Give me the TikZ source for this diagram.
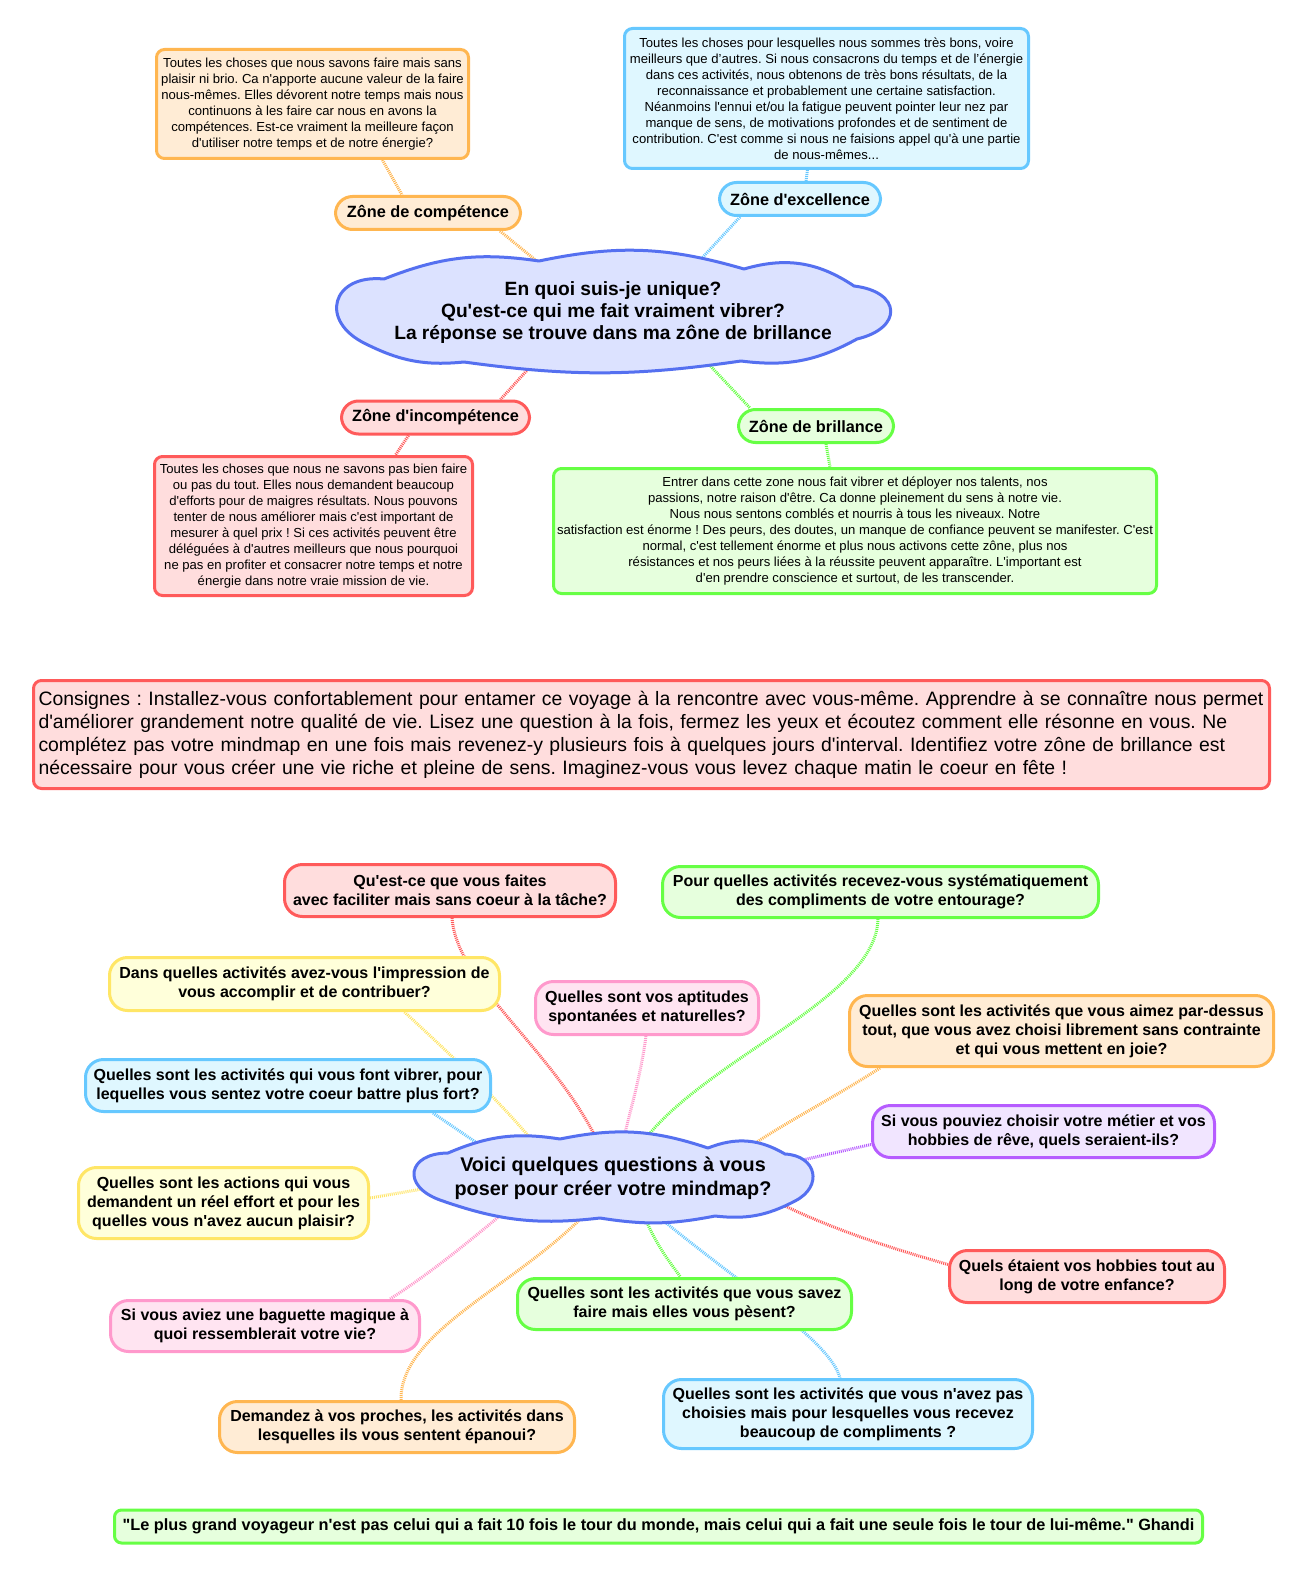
\documentclass[tikz,border=0pt]{standalone}
\usepackage{fontspec}
\setmainfont{Liberation Sans}[Ligatures=TeXOff]
\usetikzlibrary{backgrounds,calc}
\definecolor{orB}{HTML}{FFB650}\definecolor{orF}{HTML}{FFECD5}
\definecolor{blB}{HTML}{66C8FF}\definecolor{blF}{HTML}{DFF7FF}
\definecolor{rdB}{HTML}{FF5A5A}\definecolor{rdF}{HTML}{FFDDDD}
\definecolor{grB}{HTML}{66FF44}\definecolor{grF}{HTML}{E6FFDD}
\definecolor{clB}{HTML}{5570F0}\definecolor{clF}{HTML}{DCE2FF}
\definecolor{ylB}{HTML}{FFE666}\definecolor{ylF}{HTML}{FFFFDA}
\definecolor{pkB}{HTML}{FF99CC}\definecolor{pkF}{HTML}{FFE4F1}
\definecolor{puB}{HTML}{B65CFF}\definecolor{puF}{HTML}{F1E5FF}
\tikzset{
  textbox/.style={draw, line width=3pt, rounded corners=8pt, align=center, inner sep=0pt, font=\fontsize{13.1}{16}\selectfont},
  pill/.style={draw, line width=3pt, rounded corners=17pt, align=center, inner sep=0pt, minimum height=33pt, font=\bfseries\fontsize{16.3}{19}\selectfont},
  qbox/.style={draw, line width=3pt, rounded corners=18pt, align=center, inner sep=0pt, font=\bfseries\fontsize{16}{19}\selectfont},
  cloudline/.style={draw=clB, fill=clF, line width=3pt, line join=round},
  cloudtext/.style={align=center, inner sep=0pt},
  link/.style={line width=3pt, dash pattern=on 1pt off 1pt},
  orN/.style={draw=orB, fill=orF}, blN/.style={draw=blB, fill=blF},
  rdN/.style={draw=rdB, fill=rdF}, grN/.style={draw=grB, fill=grF},
  ylN/.style={draw=ylB, fill=ylF}, pkN/.style={draw=pkB, fill=pkF},
  puN/.style={draw=puB, fill=puF},
}
\begin{document}
\frenchspacing
\begin{tikzpicture}[x=1pt,y=-1pt]
\useasboundingbox (0,0) rectangle (1310,1570);
% ---------- top part ----------
\node[textbox, orN, minimum width=312pt, minimum height=109pt] (compbox) at (312.5,104) {Toutes les choses que nous savons faire mais sans\\plaisir ni brio. Ca n'apporte aucune valeur de la faire\\nous-mêmes. Elles dévorent notre temps mais nous\\continuons à les faire car nous en avons la\\compétences. Est-ce vraiment la meilleure façon\\d'utiliser notre temps et de notre énergie?};
\node[pill, orN, minimum width=185pt] (complab) at (428,213) {Zône de compétence};
\node[textbox, blN, minimum width=404pt, minimum height=140pt] (exbox) at (826.5,98.5) {Toutes les choses pour lesquelles nous sommes très bons, voire\\meilleurs que d’autres. Si nous consacrons du temps et de l’énergie\\dans ces activités, nous obtenons de très bons résultats, de la\\reconnaissance et probablement une certaine satisfaction.\\Néanmoins l'ennui et/ou la fatigue peuvent pointer leur nez par\\manque de sens, de motivations profondes et de sentiment de\\contribution. C'est comme si nous ne faisions appel qu'à une partie\\de nous-mêmes...};
\node[pill, blN, minimum width=161pt] (exlab) at (800,199) {Zône d'excellence};
% central cloud 1
\node[minimum width=556pt, minimum height=122pt, inner sep=0pt] (c1) at (613,311) {};
\draw[cloudline] (384,279) to[bend left=15] (539,261) to[bend left=14] (744,269) to[bend left=25] (854,286)
  to[bend left=80, looseness=2.3] (857,339) to[bend left=18] (741,361) to[bend left=8] (464,362)
  to[bend left=16] (366,344) to[bend left=80, looseness=2] (384,279) -- cycle;
\node[cloudtext, font=\bfseries\fontsize{19.2}{22}\selectfont] (c1t) at (613,313) {En quoi suis-je unique?\\Qu'est-ce qui me fait vraiment vibrer?\\La réponse se trouve dans ma zône de brillance};
\node[pill, rdN, minimum width=188pt] (inclab) at (435.5,417.5) {Zône d'incompétence};
\node[textbox, rdN, minimum width=318pt, minimum height=139pt] (incbox) at (313.5,526) {Toutes les choses que nous ne savons pas bien faire\\ou pas du tout. Elles nous demandent beaucoup\\d'efforts pour de maigres résultats. Nous pouvons\\tenter de nous améliorer mais c'est important de\\mesurer à quel prix ! Si ces activités peuvent être\\déléguées à d'autres meilleurs que nous pourquoi\\ne pas en profiter et consacrer notre temps et notre\\énergie dans notre vraie mission de vie.};
\node[pill, grN, minimum width=155pt] (brlab) at (816,426) {Zône de brillance};
\node[textbox, grN, minimum width=603pt, minimum height=125pt] (brbox) at (855,531) {Entrer dans cette zone nous fait vibrer et déployer nos talents, nos\\passions, notre raison d'être. Ca donne pleinement du sens à notre vie.\\Nous nous sentons comblés et nourris à tous les niveaux. Notre\\satisfaction est énorme ! Des peurs, des doutes, un manque de confiance peuvent se manifester. C'est\\normal, c'est tellement énorme et plus nous activons cette zône, plus nos\\résistances et nos peurs liées à la réussite peuvent apparaître. L'important est\\d'en prendre conscience et surtout, de les transcender.};
% ---------- consignes ----------
\node[draw=rdB, fill=rdF, line width=3pt, rounded corners=8pt, text width=1226pt, minimum height=108pt, inner xsep=5pt, inner ysep=0pt, align=left, font=\fontsize{19.4}{23}\selectfont] (cons) at (651.5,734.5) {\mbox{Consignes : Installez-vous confortablement pour entamer ce voyage à la rencontre avec vous-même. Apprendre à se connaître nous permet}\\\mbox{d'améliorer grandement notre qualité de vie. Lisez une question à la fois, fermez les yeux et écoutez comment elle résonne en vous. Ne}\\\mbox{complétez pas votre mindmap en une fois mais revenez-y plusieurs fois à quelques jours d'interval. Identifiez votre zône de brillance est}\\\mbox{nécessaire pour vous créer une vie riche et pleine de sens. Imaginez-vous vous levez chaque matin le coeur en fête !}};
% ---------- bottom part ----------
\node[minimum width=402pt, minimum height=85pt, inner sep=0pt] (c2) at (611,1176) {};
\draw[cloudline] (448,1153) to[bend left=16] (560,1139) to[bend left=15] (708,1148) to[bend left=26] (785,1154)
  to[bend left=75, looseness=1.7] (795,1201) to[bend left=17] (715,1216) to[bend left=10] (600,1218)
  to[bend left=13] (440,1200) to[bend left=80, looseness=2.2] (448,1153) -- cycle;
\node[cloudtext, font=\bfseries\fontsize{19.8}{24}\selectfont] (c2t) at (613,1178) {Voici quelques questions à vous\\poser pour créer votre mindmap?};
\node[qbox, rdN, minimum width=331pt, minimum height=52pt] (q1) at (450,890.5) {Qu'est-ce que vous faites\\avec faciliter mais sans coeur à la tâche?};
\node[qbox, grN, minimum width=436pt, minimum height=51pt] (q2) at (880.5,892) {Pour quelles activités recevez-vous systématiquement\\des compliments de votre entourage?};
\node[qbox, ylN, minimum width=390pt, minimum height=53pt] (q3) at (304.5,984) {Dans quelles activités avez-vous l'impression de\\vous accomplir et de contribuer?};
\node[qbox, pkN, minimum width=223pt, minimum height=53pt] (q4) at (647,1008) {Quelles sont vos aptitudes\\spontanées et naturelles?};
\node[qbox, orN, minimum width=424pt, minimum height=71pt] (q5) at (1061.5,1031) {Quelles sont les activités que vous aimez par-dessus\\tout, que vous avez choisi librement sans contrainte\\et qui vous mettent en joie?};
\node[qbox, blN, minimum width=405pt, minimum height=52pt] (q6) at (288,1085.5) {Quelles sont les activités qui vous font vibrer, pour\\lequelles vous sentez votre coeur battre plus fort?};
\node[qbox, puN, minimum width=342pt, minimum height=52pt] (q7) at (1043.5,1131.5) {Si vous pouviez choisir votre métier et vos\\hobbies de rêve, quels seraient-ils?};
\node[qbox, ylN, minimum width=290pt, minimum height=71pt] (q8) at (223.5,1203) {Quelles sont les actions qui vous\\demandent un réel effort et pour les\\quelles vous n'avez aucun plaisir?};
\node[qbox, rdN, minimum width=275pt, minimum height=52pt] (q9) at (1087,1276.5) {Quels étaient vos hobbies tout au\\long de votre enfance?};
\node[qbox, grN, minimum width=334pt, minimum height=51pt] (q10) at (684.5,1304) {Quelles sont les activités que vous savez\\faire mais elles vous pèsent?};
\node[qbox, pkN, minimum width=309pt, minimum height=51pt] (q11) at (265,1326) {Si vous aviez une baguette magique à\\quoi ressemblerait votre vie?};
\node[qbox, orN, minimum width=355pt, minimum height=51pt] (q12) at (397,1427) {Demandez à vos proches, les activités dans\\lesquelles ils vous sentent épanoui?};
\node[qbox, blN, minimum width=369pt, minimum height=69pt] (q13) at (848,1414) {Quelles sont les activités que vous n'avez pas\\choisies mais pour lesquelles vous recevez\\beaucoup de compliments ?};
\node[draw=grB, fill=grF, line width=3pt, rounded corners=7pt, minimum width=1088pt, minimum height=33pt, inner sep=0pt, font=\bfseries\fontsize{16.3}{18}\selectfont] (quote) at (658.5,1526.5) {"Le plus grand voyageur n'est pas celui qui a fait 10 fois le tour du monde, mais celui qui a fait une seule fois le tour de lui-même." Ghandi};
% ---------- connectors ----------
\begin{scope}[on background layer]
\fill[white] (0,0) rectangle (1310,1570);
\draw[link, orB] ($(compbox.south)+(70,0)$) -- ($(complab.north)+(-26,0)$);
\draw[link, orB] ($(complab.south)+(72,0)$) -- ($(c1)+(-63,-39)$);
\draw[link, blB] ($(exbox.south)+(-19,0)$) -- ($(exlab.north)+(6,0)$);
\draw[link, blB] ($(exlab.south)+(-60,0)$) -- ($(c1)+(77,-40)$);
\draw[link, rdB] ($(c1)+(-73,45)$) -- ($(inclab.north)+(65,0)$);
\draw[link, rdB] ($(inclab.south)+(-27,0)$) -- ($(incbox.north)+(82,0)$);
\draw[link, grB] ($(c1)+(88,45)$) -- ($(brlab.north)+(-66,0)$);
\draw[link, grB] ($(brlab.south)+(10,0)$) -- ($(brbox.north)+(-25,0)$);
% bottom
\draw[link, rdB] ($(q1.south)+(2,0)$) .. controls (457,985) and (555,1050) .. ($(c2)+(-11,-30)$);
\draw[link, grB] ($(q2.south)+(-2.5,0)$) .. controls (876,1000) and (700,1060) .. ($(c2)+(29,-30)$);
\draw[link, ylB] ($(q3.south)+(100,0)$) .. controls (440,1045) and (500,1100) .. ($(c2)+(-71,-26)$);
\draw[link, pkB] ($(q4.south)+(-1,0)$) .. controls (640,1080) and (630,1110) .. ($(c2)+(11,-30)$);
\draw[link, orB] ($(q5.south west)+(32,0)$) .. controls (830,1100) and (780,1125) .. ($(c2)+(125,-20)$);
\draw[link, blB] ($(q6.south)+(145,0)$) -- ($(c2)+(-115,-20)$);
\draw[link, puB] ($(q7.west)+(0,13)$) -- ($(c2)+(165,-10)$);
\draw[link, ylB] ($(q8.east)+(0,-5)$) -- ($(c2)+(-160,8)$);
\draw[link, rdB] ($(q9.west)+(0,-12)$) .. controls (880,1245) and (820,1225) .. ($(c2)+(150,18)$);
\draw[link, grB] ($(c2)+(30,32)$) .. controls (655,1245) and (670,1262) .. ($(q10.north)+(-4,0)$);
\draw[link, blB] ($(c2)+(37,32)$) .. controls (740,1285) and (830,1340) .. ($(q13.north)+(-8,0)$);
\draw[link, pkB] ($(c2)+(-95,26)$) .. controls (460,1250) and (420,1280) .. ($(q11.north)+(125,0)$);
\draw[link, orB] ($(c2)+(-20,32)$) .. controls (520,1285) and (400,1330) .. ($(q12.north)+(4,0)$);
\end{scope}
\end{tikzpicture}
\end{document}
